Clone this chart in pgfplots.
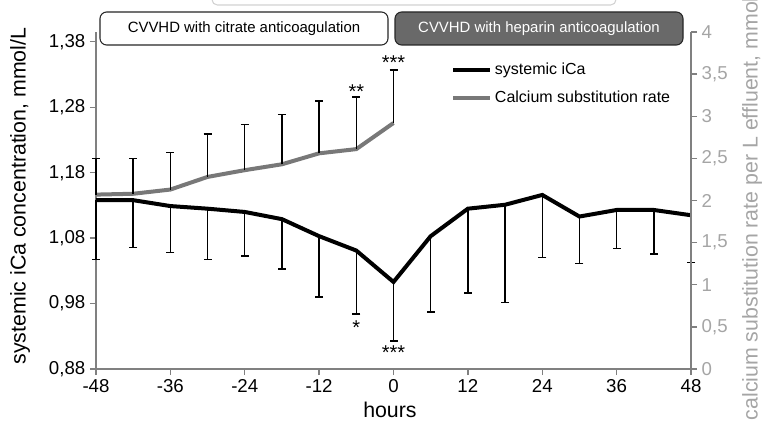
\documentclass[border=0pt]{standalone}
\usepackage{pgfplots}
\pgfplotsset{compat=1.18}
\usepackage{fontspec}
\setmainfont{Liberation Sans}
\definecolor{axgray}{RGB}{128,128,128}
\definecolor{sergray}{RGB}{120,120,120}
\definecolor{boxgray}{RGB}{105,105,105}
\definecolor{lblgray}{RGB}{165,165,165}
\begin{document}
\begin{tikzpicture}
\pgfplotsset{
  every axis/.append style={
    scale only axis, width=446.25pt, height=252.75pt,
    at={(0,0)}, anchor=south west, xmin=-48, xmax=48,
    tick label style={font=\fontsize{14}{16}\selectfont},
    axis line style={axgray, line width=1.2pt, -},
    tick style={axgray, line width=1pt},
    tick align=outside, major tick length=4.5pt,
    /pgf/number format/assume math mode=true,
    clip=false,
  },
}
% ---- left axis: systemic iCa
\begin{axis}[
  axis y line*=left, axis x line*=bottom,
  ymin=0.88, ymax=1.395,
  ytick={0.88,0.98,1.08,1.18,1.28,1.38},
  yticklabels={{0,88},{0,98},{1,08},{1,18},{1,28},{1,38}},
  xtick={-48,-36,-24,-12,0,12,24,36,48},
  xticklabels={-48,-36,-24,-12,0,12,24,36,48},
  xlabel={hours},
  ylabel={systemic iCa concentration, mmol/L},
  every axis y label/.style={at={(axis description cs:-0.1277,0.513)}, rotate=90, anchor=center, font=\fontsize{16}{18}\selectfont},
  every axis x label/.style={at={(axis description cs:0.494,-0.122)}, anchor=center, font=\fontsize{16}{18}\selectfont},
  legend style={draw=none, fill=none, at={(axis description cs:0.59,0.925)}, anchor=north west,
    font=\fontsize{12}{14}\selectfont, row sep=7pt, legend cell align=left},
  legend image code/.code={\draw[#1] (0pt,0pt) -- (27.75pt,0pt);},
]
\addplot[black, line width=3pt, no markers,
  error bars/.cd, y dir=minus, y explicit,
  error bar style={black, line width=1.1pt},
  error mark options={black, line width=1.1pt, mark size=3pt, rotate=90}]
coordinates {
(-48,1.138) +- (0,0.091)
(-42,1.138) +- (0,0.072)
(-36,1.129) +- (0,0.071)
(-30,1.125) +- (0,0.078)
(-24,1.120) +- (0,0.067)
(-18,1.109) +- (0,0.076)
(-12,1.083) +- (0,0.093)
(-6,1.061) +- (0,0.097)
(0,1.013) +- (0,0.090)
(6,1.083) +- (0,0.116)
(12,1.125) +- (0,0.129)
(18,1.131) +- (0,0.149)
(24,1.146) +- (0,0.096)
(30,1.113) +- (0,0.072)
(36,1.123) +- (0,0.059)
(42,1.123) +- (0,0.067)
(48,1.115) +- (0,0.072)
};
\addlegendentry{systemic iCa}
\addlegendimage{sergray, line width=3pt}
\addlegendentry{Calcium substitution rate}
\node[font=\fontsize{15}{17}\selectfont, yshift=-3pt] at (axis cs:-6,0.950) {*};
\node[font=\fontsize{15}{17}\selectfont, yshift=-3pt] at (axis cs:0,0.911) {***};
\end{axis}
% ---- right axis: calcium substitution rate
\begin{axis}[
  axis y line*=right, axis x line=none,
  ymin=0, ymax=4,
  ytick={0,0.5,1,1.5,2,2.5,3,3.5,4},
  yticklabels={0,{0,5},1,{1,5},2,{2,5},3,{3,5},4},
  yticklabel style={lblgray},
  ylabel={calcium substitution rate per L effluent, mmol/L},
  every axis y label/.style={at={(axis description cs:1.1025,-0.166)}, rotate=90, anchor=west, lblgray, font=\fontsize{16}{18}\selectfont},
]
\addplot[sergray, line width=3pt, no markers,
  error bars/.cd, y dir=plus, y explicit,
  error bar style={black, line width=1.1pt},
  error mark options={black, line width=1.1pt, mark size=3pt, rotate=90}]
coordinates {
(-48,2.07) +- (0,0.43)
(-42,2.08) +- (0,0.42)
(-36,2.13) +- (0,0.44)
(-30,2.28) +- (0,0.51)
(-24,2.36) +- (0,0.54)
(-18,2.43) +- (0,0.59)
(-12,2.56) +- (0,0.62)
(-6,2.61) +- (0,0.62)
(0,2.92) +- (0,0.63)
};
\node[font=\fontsize{15}{17}\selectfont, yshift=-3pt] at (axis cs:-6,3.345) {**};
\node[font=\fontsize{15}{17}\selectfont, yshift=-3pt] at (axis cs:0,3.68) {***};
\end{axis}
% ---- annotation boxes in pixel coordinates
\begin{scope}[x=0.75pt, y=-0.75pt, shift={(-72pt,276.75pt)}]
  \draw[gray!35, line width=0.8pt, fill=white, rounded corners=4pt] (212,-30) rectangle (616,5);
  \draw[black!85, line width=0.8pt, fill=white, rounded corners=5pt] (100,12) rectangle (388,45);
  \node[font=\fontsize{11.2}{13}\selectfont] at (244,28.5) {CVVHD with citrate anticoagulation};
  \draw[black!85, line width=0.8pt, fill=boxgray, rounded corners=5pt] (395,12) rectangle (683,45);
  \node[font=\fontsize{11.2}{13}\selectfont, white] at (539,28.5) {CVVHD with heparin anticoagulation};
  \pgfresetboundingbox
  \path[use as bounding box] (0,0) rectangle (764,429);
\end{scope}
\end{tikzpicture}
\end{document}
